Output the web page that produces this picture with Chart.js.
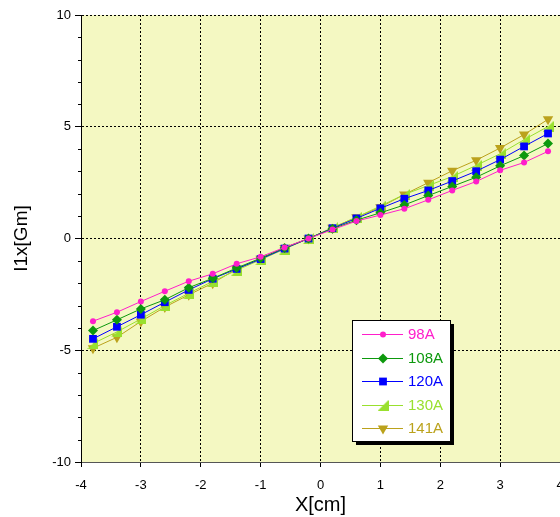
<!DOCTYPE html>
<html>
<head>
<meta charset="utf-8">
<script src="https://cdn.jsdelivr.net/npm/chart.js@4"></script>
<style>
  html, body { margin: 0; padding: 0; background: #fff; overflow: hidden; }
  #wrap { width: 560px; height: 517px; overflow: hidden; }
</style>
</head>
<body>
<div id="wrap"><canvas id="lineChart" width="600" height="517"></canvas></div>
<script>
// Datos
const xValues = [-3.8, -3.4, -3.0, -2.6, -2.2, -1.8, -1.4, -1.0, -0.6, -0.2, 0.2, 0.6, 1.0, 1.4, 1.8, 2.2, 2.6, 3.0, 3.4, 3.8];
const seriesNames = ['98A', '108A', '120A', '130A', '141A'];
const s98  = [-3.70, -3.30, -2.82, -2.36, -1.91, -1.58, -1.13, -0.82, -0.40, 0.00, 0.40, 0.78, 1.05, 1.33, 1.73, 2.15, 2.55, 3.05, 3.40, 3.90];
const s108 = [-4.12, -3.64, -3.15, -2.74, -2.20, -1.78, -1.32, -0.88, -0.42, 0.00, 0.44, 0.82, 1.15, 1.50, 1.92, 2.33, 2.74, 3.25, 3.71, 4.25];
const s120 = [-4.49, -3.95, -3.41, -2.85, -2.30, -1.80, -1.36, -0.92, -0.45, 0.00, 0.46, 0.90, 1.35, 1.78, 2.15, 2.57, 3.01, 3.53, 4.12, 4.70];
const s130 = [-4.70, -4.18, -3.60, -3.00, -2.45, -1.92, -1.42, -0.95, -0.47, 0.00, 0.48, 0.95, 1.45, 1.97, 2.37, 2.77, 3.27, 3.79, 4.42, 5.01];
const s141 = [-4.91, -4.42, -3.71, -3.07, -2.52, -2.00, -1.36, -0.91, -0.42, 0.00, 0.48, 0.95, 1.40, 1.97, 2.50, 3.03, 3.50, 4.05, 4.65, 5.33];
const xTicks = [-4, -3, -2, -1, 0, 1, 2, 3, 4];
const yTicks = [-10, -5, 0, 5, 10];

// marcador triángulo rectángulo para 130A
function rightTriangle(color) {
    const c = document.createElement('canvas');
    c.width = 11; c.height = 11;
    const g = c.getContext('2d');
    g.fillStyle = color;
    g.beginPath();
    g.moveTo(11, 0);
    g.lineTo(11, 11);
    g.lineTo(0, 11);
    g.closePath();
    g.fill();
    return c;
}

const colors = ['#ff1ecb', '#0d990d', '#0000ff', '#99e02e', '#bba21c'];
const styles = [
    { pointStyle: 'circle', radius: 3, rotation: 0 },
    { pointStyle: 'rectRot', radius: 5, rotation: 0 },
    { pointStyle: 'rect', radius: 5.5, rotation: 0 },
    { pointStyle: rightTriangle(colors[3]), radius: 5, rotation: 0 },
    { pointStyle: 'triangle', radius: 6, rotation: 180 }
];
const allSeries = [s98, s108, s120, s130, s141];

const datasets = allSeries.map((s, i) => ({
    label: seriesNames[i],
    data: s.map((v, k) => ({ x: xValues[k], y: v })),
    borderColor: colors[i],
    backgroundColor: colors[i],
    borderWidth: 1,
    pointStyle: styles[i].pointStyle,
    pointRadius: styles[i].radius,
    pointRotation: styles[i].rotation,
    pointBorderWidth: 0,
    pointHoverRadius: styles[i].radius,
    tension: 0
}));

// fondo amarillo del área
const bgPlugin = {
    id: 'bgArea',
    beforeDraw(chart) {
        const a = chart.chartArea, ctx = chart.ctx;
        ctx.save();
        ctx.fillStyle = '#f4f8c2';
        ctx.fillRect(a.left, a.top, a.right - a.left, a.bottom - a.top);
        ctx.restore();
    }
};

// marcas menores del eje Y y leyenda dentro del área
const extrasPlugin = {
    id: 'extras',
    afterDraw(chart) {
        const ctx = chart.ctx, y = chart.scales.y, a = chart.chartArea;
        ctx.save();
        ctx.strokeStyle = '#000';
        ctx.lineWidth = 1;
        for (let v = -10; v <= 10; v++) {
            if (v % 5 === 0) continue;
            const py = Math.round(y.getPixelForValue(v)) + 0.5;
            ctx.beginPath();
            ctx.moveTo(a.left - 3, py);
            ctx.lineTo(a.left, py);
            ctx.stroke();
        }
        // leyenda
        const bx = 352, by = 320, bw = 98, bh = 121;
        ctx.fillStyle = '#000';
        ctx.fillRect(bx + 4, by + 4, bw, bh);
        ctx.fillStyle = '#fff';
        ctx.fillRect(bx, by, bw, bh);
        ctx.strokeStyle = '#000';
        ctx.strokeRect(bx + 0.5, by + 0.5, bw, bh);
        ctx.font = '15px "Liberation Sans", Arial, sans-serif';
        ctx.textBaseline = 'middle';
        chart.data.datasets.forEach((ds, i) => {
            const ry = 334 + i * 23.5;
            ctx.strokeStyle = ds.borderColor;
            ctx.beginPath();
            ctx.moveTo(362, Math.round(ry) + 0.5);
            ctx.lineTo(403, Math.round(ry) + 0.5);
            ctx.stroke();
            ctx.fillStyle = ds.backgroundColor;
            Chart.helpers.drawPoint(ctx, {
                pointStyle: ds.pointStyle,
                radius: ds.pointRadius,
                rotation: ds.pointRotation,
                borderWidth: 0
            }, 383, Math.round(ry) + 0.5);
            ctx.fillText(ds.label, 408, ry + 1);
        });
        ctx.restore();
    }
};

const ctx = document.getElementById('lineChart').getContext('2d');
const lineChart = new Chart(ctx, {
    type: 'scatter',
    data: { datasets: datasets },
    plugins: [bgPlugin, extrasPlugin],
    options: {
        responsive: false,
        animation: false,
        showLine: true,
        layout: { padding: { top: 15, right: 40, left: 0, bottom: 0 } },
        plugins: {
            legend: { display: false },
            tooltip: { enabled: false }
        },
        scales: {
            x: {
                type: 'linear',
                min: -4, max: 4,
                afterBuildTicks: s => { s.ticks = xTicks.map(v => ({ value: v })); },
                afterFit: s => { s.height = 55; },
                ticks: {
                    color: '#000',
                    font: { family: '"Liberation Sans", Arial', size: 13 },
                    padding: 11,
                    maxRotation: 0
                },
                grid: {
                    color: '#000',
                    lineWidth: 1,
                    tickLength: 5,
                    tickBorderDash: [],
                    tickColor: '#000',
                    drawOnChartArea: true
                },
                border: { display: true, color: '#555', dash: [2, 2] },
                title: {
                    display: true,
                    text: 'X[cm]',
                    color: '#000',
                    font: { family: '"Liberation Sans", Arial', size: 20 },
                    padding: { top: 0, bottom: 0 }
                }
            },
            y: {
                type: 'linear',
                min: -10, max: 10,
                afterBuildTicks: s => { s.ticks = yTicks.map(v => ({ value: v })); },
                afterFit: s => { s.width = 81; },
                ticks: {
                    color: '#000',
                    font: { family: '"Liberation Sans", Arial', size: 13 },
                    padding: 4
                },
                grid: {
                    color: '#000',
                    lineWidth: 1,
                    tickLength: 6,
                    tickBorderDash: [],
                    tickColor: '#000'
                },
                border: { display: true, color: '#000', dash: [2, 2] },
                title: {
                    display: true,
                    text: 'I1x[Gm]',
                    color: '#000',
                    font: { family: '"Liberation Sans", Arial', size: 19 },
                    padding: { top: 10, bottom: 0 }
                }
            }
        }
    }
});
</script>
</body>
</html>
